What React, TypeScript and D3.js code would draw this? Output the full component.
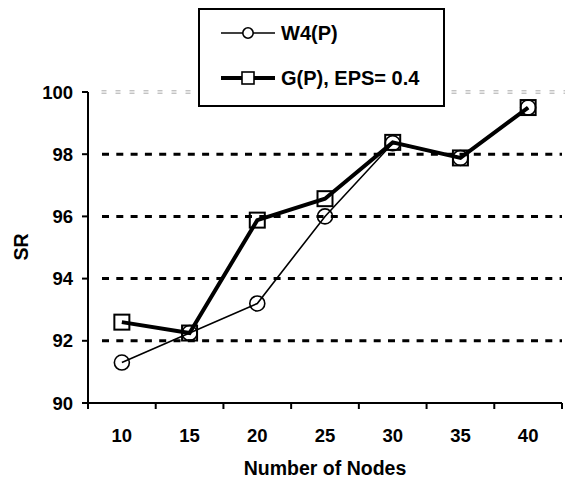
import React from "react";
import * as d3 from "d3";

const categories = ["10", "15", "20", "25", "30", "35", "40"];
const w4Values = [91.3, 92.25, 93.2, 96.0, 98.35, 97.88, 99.5];
const gValues = [92.6, 92.25, 95.88, 96.57, 98.38, 97.88, 99.5];
const yTicks = [90, 92, 94, 96, 98, 100];
const seriesNames = ["W4(P)", "G(P), EPS= 0.4"];

const W = 565;
const H = 483;
const FONT = "'Liberation Sans', Arial, sans-serif";

export default function App() {
  const left = 88;
  const right = 562;
  const top = 92;
  const bottom = 403;

  const x = d3.scaleBand<string>().domain(categories).range([left, right]).padding(0);
  const y = d3.scaleLinear().domain([90, 100]).range([bottom, top]);
  const cx = (c: string) => (x(c) as number) + x.bandwidth() / 2;

  const line = d3
    .line<number>()
    .x((_, i) => cx(categories[i]))
    .y((d) => y(d));

  const tickXs = categories.map((c) => x(c) as number).concat([right]);

  return (
    <svg
      width={W}
      height={H}
      style={{ position: "absolute", left: 0, top: 0, background: "#fff" }}
      fontFamily={FONT}
      fontWeight="bold"
    >
      <rect x={0} y={0} width={W} height={H} fill="#fff" />
      {/* gridlines */}
      {yTicks
        .filter((t) => t !== 90 && t !== 100)
        .map((t) => (
          <line
            key={t}
            x1={102}
            x2={right}
            y1={y(t)}
            y2={y(t)}
            stroke="#000"
            strokeWidth={3}
            strokeDasharray="7 7.3"
          />
        ))}
      {/* top gridline (gray, double dashed) */}
      {[-1.2, 1.2].map((o) => (
        <line
          key={o}
          x1={101.5}
          x2={W}
          y1={y(100) + o}
          y2={y(100) + o}
          stroke="#a8a8a8"
          strokeWidth={1}
          strokeDasharray="5 9"
        />
      ))}
      {/* axes */}
      <line x1={left} x2={left} y1={top} y2={bottom} stroke="#000" strokeWidth={2} />
      <line x1={left} x2={right} y1={bottom} y2={bottom} stroke="#000" strokeWidth={2} />
      {yTicks.map((t) => (
        <g key={t}>
          <line x1={left - 6} x2={left} y1={y(t)} y2={y(t)} stroke="#000" strokeWidth={2} />
          <text x={73} y={y(t)} dy="0.36em" textAnchor="end" fontSize={18.5} fill="#000">
            {t}
          </text>
        </g>
      ))}
      {tickXs.map((tx, i) => (
        <line key={i} x1={tx} x2={tx} y1={bottom} y2={bottom + 6} stroke="#000" strokeWidth={2} />
      ))}
      {categories.map((c) => (
        <text key={c} x={cx(c)} y={442} textAnchor="middle" fontSize={18.5} fill="#000">
          {c}
        </text>
      ))}
      <text x={(left + right) / 2} y={475} textAnchor="middle" fontSize={19.5} fill="#000">
        Number of Nodes
      </text>
      <text
        transform={`translate(28,247) rotate(-90)`}
        textAnchor="middle"
        fontSize={19.5}
        fill="#000"
      >
        SR
      </text>

      {/* series W4 */}
      <path d={line(w4Values) || ""} fill="none" stroke="#000" strokeWidth={1.6} />
      {w4Values.map((v, i) => (
        <circle
          key={i}
          cx={cx(categories[i])}
          cy={y(v)}
          r={7.5}
          fill="none"
          stroke="#000"
          strokeWidth={1.6}
        />
      ))}
      {/* series G */}
      <path d={line(gValues) || ""} fill="none" stroke="#000" strokeWidth={4} />
      {gValues.map((v, i) => (
        <rect
          key={i}
          x={cx(categories[i]) - 7.5}
          y={y(v) - 7.5}
          width={15}
          height={15}
          fill="none"
          stroke="#000"
          strokeWidth={2}
        />
      ))}

      {/* legend */}
      <rect x={199} y={9} width={245} height={97} fill="#fff" stroke="#000" strokeWidth={2} />
      <line x1={221} x2={275} y1={33} y2={33} stroke="#000" strokeWidth={1.6} />
      <circle cx={248} cy={33} r={5.2} fill="#fff" stroke="#000" strokeWidth={1.6} />
      <text x={281} y={33} dy="0.36em" fontSize={20} fill="#000">
        {seriesNames[0]}
      </text>
      <line x1={221} x2={275} y1={78} y2={78} stroke="#000" strokeWidth={4} />
      <rect x={242} y={72} width={12} height={12} fill="#fff" stroke="#000" strokeWidth={1.6} />
      <text x={281} y={78} dy="0.36em" fontSize={20} fill="#000">
        {seriesNames[1]}
      </text>
    </svg>
  );
}
